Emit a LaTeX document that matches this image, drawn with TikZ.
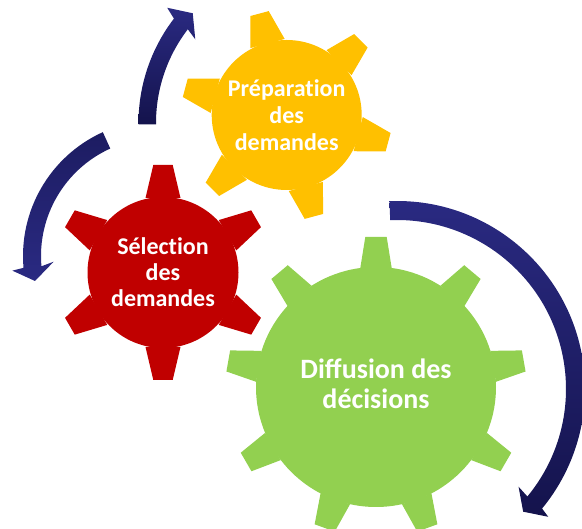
\documentclass[tikz,border=0pt]{standalone}
\usepackage{fontspec}
\setmainfont{Carlito}
\definecolor{gearyellow}{HTML}{FFC000}
\definecolor{gearred}{HTML}{C00000}
\definecolor{geargreen}{HTML}{92D050}
\definecolor{navytop}{HTML}{2A2A82}
\definecolor{navybot}{HTML}{14134C}

% #1 centre, #2 colour, #3 root radius, #4 tip radius, #5 base half width, #6 tip half width, #7 tooth angles
\newcommand{\gearteeth}[7]{
	\foreach \ang in {#7}
		\fill[#2, shift={(#1)}, rotate=\ang] (#3-1,-#5) -- (#4,-#6) -- (#4,#6) -- (#3-1,#5) -- cycle;
}

\begin{document}
\begin{tikzpicture}[x=1pt, y=1pt,
every node/.style = {shape=circle, align=center, text=white, inner sep=0pt}]

\useasboundingbox (0,0) rectangle (582,529);
\clip (0,0) rectangle (582,529);

% gears
\node[fill=gearred, minimum size=151pt, font=\fontsize{24}{26}\selectfont\bfseries] (selection) at (163,256.5) {S\'elect\kern0pt ion\\des\\demandes};
\gearteeth{selection.center}{gearred}{75.5}{107.5}{17.5}{9.7}{90,30,-30,-90,-150,150}

\node[fill=geargreen, minimum size=240pt] (diffgear) at (376,142) {};
\gearteeth{diffgear.center}{geargreen}{120}{150}{15.7}{10.7}{90,50,10,-30,-70,-110,-150,170,130}
\node[font=\fontsize{28}{30}\selectfont\bfseries] (diffusion) at ([yshift=3pt]diffgear.center) {Diffusion des\\d\'ecisions};

\node[fill=gearyellow, minimum size=150pt, font=\fontsize{24}{27}\selectfont\bfseries] (preparation) at (286.7,414) {Pr\'eparat\kern0pt ion\\des\\demandes};
\gearteeth{preparation.center}{gearyellow}{75}{105}{17.7}{9.5}{105,45,-15,-75,-135,165}

% arrows
\shade[shift={(397,140)}, top color=navytop, bottom color=navybot]
	(92.3:188) arc (92.3:-39.5:188)
	-- (-40.2:198)
	-- (-44.2:176)
	-- (-38.8:156)
	-- (-39.5:169) arc (-39.5:92.3:169) -- cycle;

\shade[shift={(310,406)}, top color=navytop, bottom color=navybot]
	(180.5:171.5) arc (180.5:142.5:171.5)
	-- (141.1:183.5)
	-- (136.9:160.6)
	-- (143.9:142)
	-- (142.5:154) arc (142.5:180.5:154) -- cycle;

\shade[shift={(159,273)}, top color=navybot!60!navytop, bottom color=navytop]
	(114.4:136) arc (114.4:185:136)
	-- (185.7:147.4)
	-- (191.4:126.5)
	-- (183.1:105.5)
	-- (185:118) arc (185:114.4:118) -- cycle;

\end{tikzpicture}
\end{document}
